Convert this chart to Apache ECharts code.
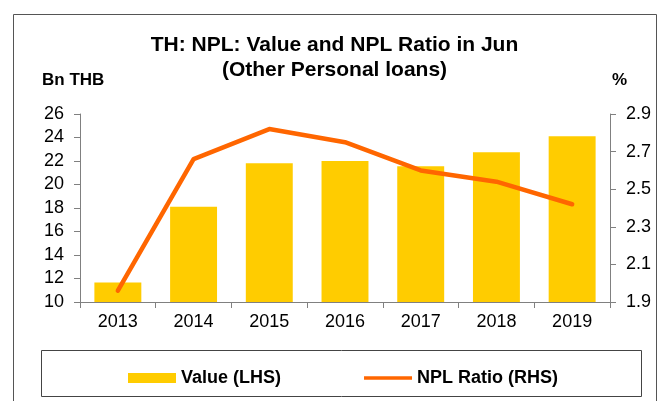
<!DOCTYPE html>
<html><head><meta charset="utf-8">
<script src="https://cdn.jsdelivr.net/npm/echarts@6/dist/echarts.min.js"></script>
<style>html,body{margin:0;padding:0;background:#fff;}#c{width:669px;height:401px;}</style>
</head><body><div id="c"></div>
<script>
const categories = ['2013','2014','2015','2016','2017','2018','2019'];
const valueLHS = [11.65, 18.1, 21.8, 22.0, 21.55, 22.75, 24.1];
const nplRatio = [1.96, 2.66, 2.82, 2.75, 2.60, 2.54, 2.42];
const leftTicks = {min: 10, max: 26, interval: 2};
const rightTicks = {min: 1.9, max: 2.9, interval: 0.2};

const chart = echarts.init(document.getElementById('c'), null, {renderer: 'canvas'});
const font = '"Liberation Sans", Arial, sans-serif';
chart.setOption({
  backgroundColor: '#fff',
  animation: false,
  textStyle: {fontFamily: font},
  title: {
    text: 'TH: NPL: Value and NPL Ratio in Jun\n(Other Personal loans)',
    left: 'center', top: 28,
    textStyle: {fontSize: 21, fontWeight: 'bold', color: '#000', lineHeight: 24.5, fontFamily: font}
  },
  graphic: [
    {type: 'rect', shape: {x: 13.5, y: 14.5, width: 643, height: 400}, style: {fill: 'none', stroke: '#555', lineWidth: 1}, z: -1},
    {type: 'rect', shape: {x: 41.5, y: 350.5, width: 600, height: 46}, style: {fill: 'none', stroke: '#444', lineWidth: 1}, z: -1},
    {type: 'text', left: 42, top: 72, style: {text: 'Bn THB', font: 'bold 17px ' + font, fill: '#000'}},
    {type: 'text', left: 612, top: 72, style: {text: '%', font: 'bold 17px ' + font, fill: '#000'}}
  ],
  legend: {
    left: 123, top: 364,
    itemWidth: 48, itemHeight: 10, itemGap: 83,
    textStyle: {fontSize: 18, fontWeight: 'bold', color: '#000', fontFamily: font, padding: [0,0,0,0]},
    data: [
      {name: 'Value (LHS)', icon: 'rect'},
      {name: 'NPL Ratio (RHS)', icon: 'path://M0,3.2 L48,3.2 L48,6.8 L0,6.8 Z'}
    ]
  },
  grid: {left: 80, right: 59, top: 114, bottom: 99},
  xAxis: {
    type: 'category', data: categories,
    axisLine: {lineStyle: {color: '#808080', width: 1}},
    axisTick: {show: true, alignWithLabel: false, length: 6, lineStyle: {color: '#808080'}},
    axisLabel: {color: '#000', fontSize: 18, margin: 11, fontFamily: font}
  },
  yAxis: [
    {type: 'value', min: leftTicks.min, max: leftTicks.max, interval: leftTicks.interval,
     axisLine: {show: true, lineStyle: {color: '#808080'}},
     axisTick: {show: true, length: 6, lineStyle: {color: '#808080'}},
     splitLine: {show: false},
     axisLabel: {color: '#000', fontSize: 18, margin: 16, fontFamily: font}},
    {type: 'value', min: rightTicks.min, max: rightTicks.max, interval: rightTicks.interval, position: 'right',
     axisLine: {show: true, lineStyle: {color: '#808080'}},
     axisTick: {show: true, length: 6, lineStyle: {color: '#808080'}},
     splitLine: {show: false},
     axisLabel: {color: '#000', fontSize: 18, margin: 16, fontFamily: font, formatter: v => v.toFixed(1)}}
  ],
  series: [
    {name: 'Value (LHS)', type: 'bar', data: valueLHS, yAxisIndex: 0, barWidth: '62%',
     itemStyle: {color: '#FFCC00'}},
    {name: 'NPL Ratio (RHS)', type: 'line', data: nplRatio, yAxisIndex: 1, symbol: 'none',
     lineStyle: {color: '#FF6600', width: 4.5, cap: 'round', join: 'round'}, itemStyle: {color: '#FF6600'}}
  ]
});
</script></body></html>
